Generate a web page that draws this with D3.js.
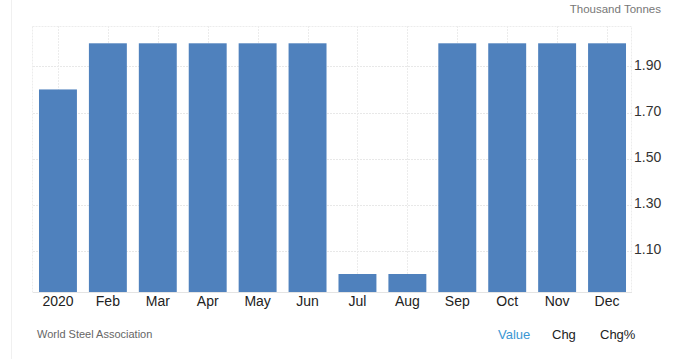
<!DOCTYPE html>
<html>
<head>
<meta charset="utf-8">
<script src="https://cdn.jsdelivr.net/npm/d3@7"></script>
<style>
  html, body { margin: 0; padding: 0; background: #fff; }
  svg { display: block; font-family: Arial, "Liberation Sans", Helvetica, sans-serif; }
</style>
</head>
<body>
<svg id="chart" width="675" height="359"></svg>
<script>
const categories = ["2020", "Feb", "Mar", "Apr", "May", "Jun", "Jul", "Aug", "Sep", "Oct", "Nov", "Dec"];
const values = [1.8, 2.0, 2.0, 2.0, 2.0, 2.0, 1.0, 1.0, 2.0, 2.0, 2.0, 2.0];
const yTicks = [1.1, 1.3, 1.5, 1.7, 1.9];
const yDomain = [0.922, 2.075];
const unitLabel = "Thousand Tonnes";
const sourceLabel = "World Steel Association";
const tabs = ["Value", "Chg", "Chg%"];

const svg = d3.select("#chart");
const W = 675, H = 359;
const m = { left: 33, right: 632, top: 26, bottom: 292 };

// faint page border at left
svg.append("line").attr("x1", 11.5).attr("x2", 11.5).attr("y1", 0).attr("y2", H)
  .attr("stroke", "#f0f0f0").attr("stroke-width", 1);

const x = d3.scaleBand().domain(categories).range([m.left, m.right]).paddingInner(0.24).paddingOuter(0.12);
const y = d3.scaleLinear().domain(yDomain).range([m.bottom, m.top]);

// plot border
svg.append("rect").attr("x", m.left - 0.5).attr("y", m.top + 0.5)
  .attr("width", m.right - m.left).attr("height", m.bottom - m.top)
  .attr("fill", "none").attr("stroke", "#ececec").attr("stroke-dasharray", "2,1");

// horizontal gridlines
svg.append("g").selectAll("line").data(yTicks).join("line")
  .attr("x1", m.left).attr("x2", m.right)
  .attr("y1", d => Math.round(y(d)) + 0.5).attr("y2", d => Math.round(y(d)) + 0.5)
  .attr("stroke", "#e8e8e8").attr("stroke-dasharray", "2,1");

// vertical gridlines at band centers
svg.append("g").selectAll("line").data(categories).join("line")
  .attr("x1", d => Math.round(x(d) + x.bandwidth() / 2) + 0.5)
  .attr("x2", d => Math.round(x(d) + x.bandwidth() / 2) + 0.5)
  .attr("y1", m.top).attr("y2", m.bottom)
  .attr("stroke", "#ececec").attr("stroke-dasharray", "2,1");

// bars
svg.append("g").selectAll("rect").data(values).join("rect")
  .attr("x", (d, i) => x(categories[i]))
  .attr("width", x.bandwidth())
  .attr("y", d => y(d))
  .attr("height", d => m.bottom - y(d))
  .attr("fill", "#4f81bd");

// bottom axis line
svg.append("line").attr("x1", m.left).attr("x2", m.right)
  .attr("y1", m.bottom + 0.5).attr("y2", m.bottom + 0.5)
  .attr("stroke", "#e4e4e4");

// x axis
const xAxis = d3.axisBottom(x).tickSize(0).tickPadding(0);
const gx = svg.append("g").attr("transform", `translate(0,${m.bottom})`).call(xAxis);
gx.select(".domain").remove();
gx.selectAll("text").attr("dy", null).attr("y", 14).attr("font-size", 14).attr("fill", "#222")
  .attr("font-family", "Arial, 'Liberation Sans', sans-serif");

// y axis on right
const yAxis = d3.axisRight(y).tickValues(yTicks).tickSize(0).tickPadding(0).tickFormat(d3.format(".2f"));
const gy = svg.append("g").attr("transform", `translate(${m.right + 2},-1.5)`).call(yAxis);
gy.select(".domain").remove();
gy.selectAll("text").attr("font-size", 14).attr("fill", "#333")
  .attr("font-family", "Arial, 'Liberation Sans', sans-serif");

// unit label
svg.append("text").attr("x", 661).attr("y", 13).attr("text-anchor", "end")
  .attr("font-size", 11.5).attr("fill", "#777").text(unitLabel);

// source
svg.append("text").attr("x", 37).attr("y", 338)
  .attr("font-size", 11).attr("fill", "#666").text(sourceLabel);

// tabs
const tabX = [498, 552, 600];
svg.append("g").selectAll("text").data(tabs).join("text")
  .attr("x", (d, i) => tabX[i]).attr("y", 339)
  .attr("font-size", 13)
  .attr("fill", (d, i) => i === 0 ? "#3b97d3" : "#222")
  .text(d => d);
</script>
</body>
</html>
